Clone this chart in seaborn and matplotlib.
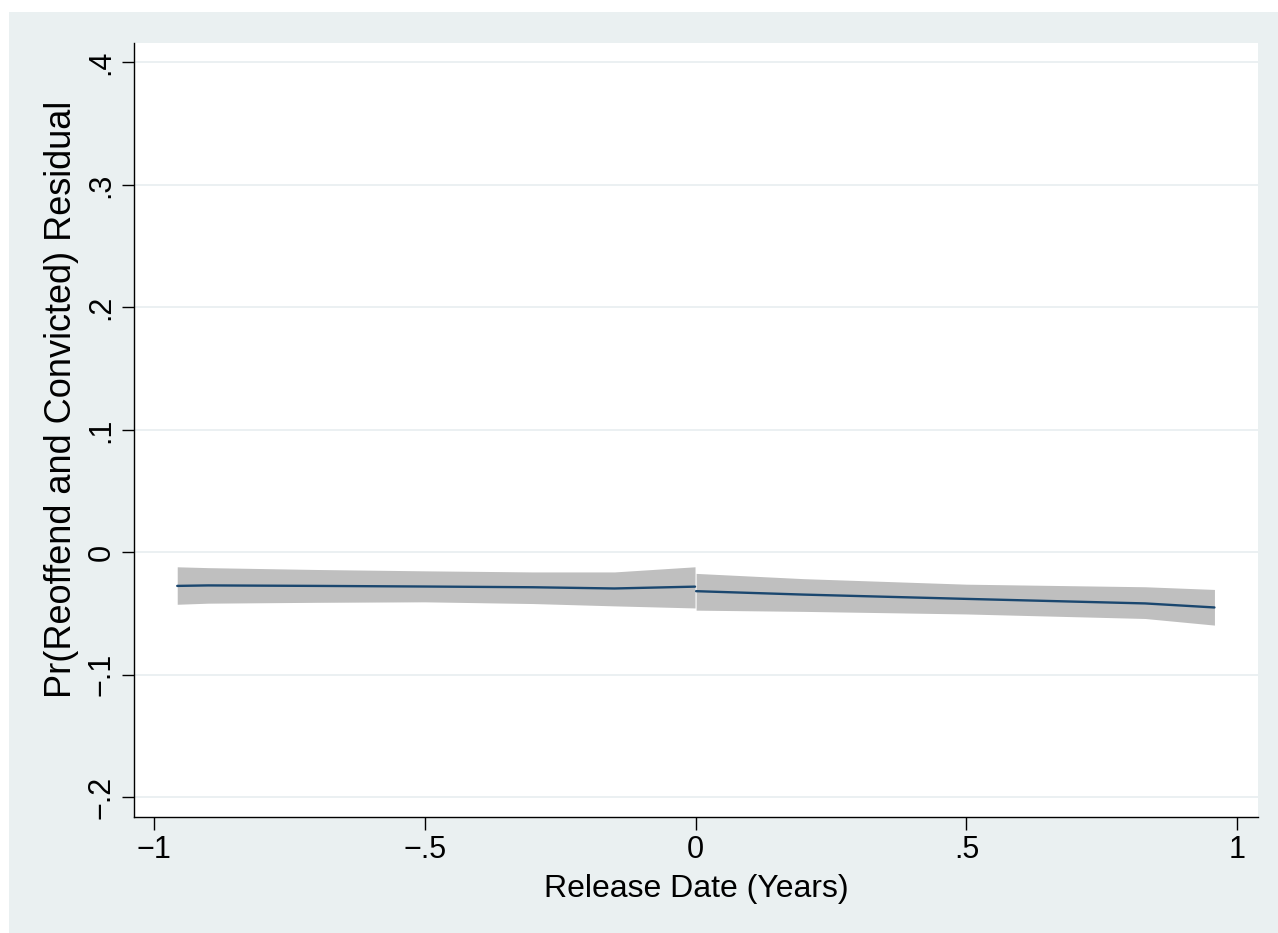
import matplotlib
matplotlib.use("Agg")
import matplotlib.pyplot as plt
from matplotlib.patches import Rectangle
import seaborn as sns

# residual fit before release (left of 0) and after release (right of 0)
left_x = [-0.957, -0.9, -0.7, -0.5, -0.3, -0.15, -0.001]
left_y = [-0.0274, -0.0270, -0.0274, -0.0279, -0.0285, -0.0295, -0.0280]
left_lo = [-0.0424, -0.0415, -0.0408, -0.0404, -0.0418, -0.0437, -0.0454]
left_hi = [-0.0118, -0.0125, -0.0140, -0.0151, -0.0160, -0.0160, -0.0118]

right_x = [0.001, 0.2, 0.5, 0.83, 0.958]
right_y = [-0.0317, -0.0345, -0.0380, -0.0417, -0.0450]
right_lo = [-0.0472, -0.0482, -0.0503, -0.0540, -0.0594]
right_hi = [-0.0172, -0.0215, -0.0260, -0.0281, -0.0303]

xticks = [-1, -0.5, 0, 0.5, 1]
xlabels = ["\u22121", "\u2212.5", "0", ".5", "1"]
yticks = [-0.2, -0.1, 0, 0.1, 0.2, 0.3, 0.4]
ylabels = ["\u2212.2", "\u2212.1", "0", ".1", ".2", ".3", ".4"]

sns.set_style("ticks")
plt.rcParams["font.family"] = ["Liberation Sans", "DejaVu Sans"]
plt.rcParams["text.color"] = "black"
plt.rcParams["axes.labelcolor"] = "black"
plt.rcParams["xtick.color"] = "black"
plt.rcParams["ytick.color"] = "black"

bg = "#EAF0F1"
navy = "#1A476F"
band = "#BFBFBF"

fig = plt.figure(figsize=(12.78, 9.33), dpi=100)
fig.patch.set_facecolor("white")
fig.patches.append(Rectangle((9 / 1278, 0), 1 - 9 / 1278, 1 - 12 / 933,
                             transform=fig.transFigure, facecolor=bg,
                             edgecolor="none", zorder=-10))

ax = fig.add_axes([0.1052, 0.1240, 0.8794, 0.8302])
ax.set_facecolor("white")

for yt in yticks:
    ax.axhline(yt, color="#E8EEF0", lw=1.2, zorder=0)

ax.fill_between(left_x, left_lo, left_hi, color=band, lw=0, zorder=1)
ax.fill_between(right_x, right_lo, right_hi, color=band, lw=0, zorder=1)
sns.lineplot(x=left_x, y=left_y, ax=ax, color=navy, lw=1.7, zorder=2)
sns.lineplot(x=right_x, y=right_y, ax=ax, color=navy, lw=1.7, zorder=2)

ax.set_xlim(-1.036, 1.039)
ax.set_ylim(-0.2163, 0.416)
ax.set_xticks(xticks, xlabels)
ax.set_yticks(yticks, ylabels)
ax.tick_params(axis="both", direction="out", length=9, width=1.0,
               color="black", labelcolor="black", labelsize=22, pad=4)
for lab in ax.get_yticklabels():
    lab.set_rotation(90)
    lab.set_va("center")

for side in ["top", "right"]:
    ax.spines[side].set_visible(False)
for side in ["left", "bottom"]:
    ax.spines[side].set_linewidth(1.0)
    ax.spines[side].set_color("black")

ax.set_xlabel("Release Date (Years)", fontsize=23, labelpad=6)
ax.set_ylabel("Pr(Reoffend and Convicted) Residual", fontsize=26, labelpad=8)
ax.yaxis.set_label_coords(-0.049, 0.539)

fig.savefig("out.png", dpi=100, facecolor=fig.get_facecolor())
